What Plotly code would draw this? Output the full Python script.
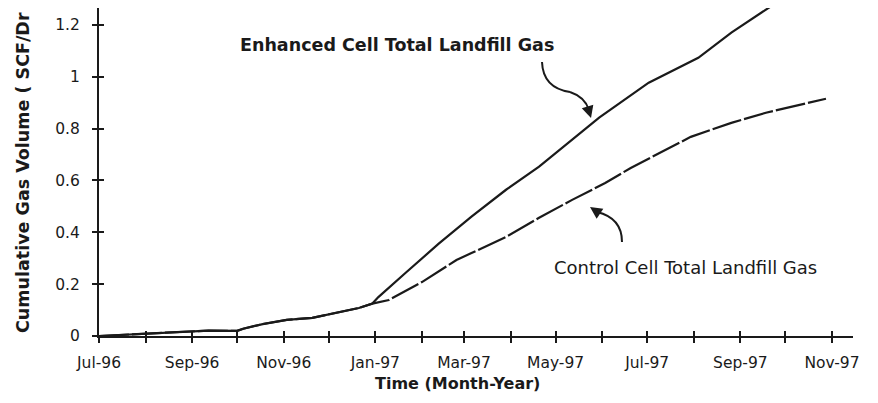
import plotly.graph_objects as go

# ---------------- data ----------------
enh_dates = ["1996-07-01", "1996-08-01", "1996-09-01", "1996-09-12", "1996-10-01", "1996-10-05",
             "1996-10-18", "1996-11-03", "1996-11-20", "1996-12-06", "1996-12-21", "1996-12-30",
             "1997-01-03", "1997-01-21", "1997-02-12", "1997-03-06", "1997-03-29", "1997-04-20",
             "1997-05-04", "1997-05-30", "1997-07-02", "1997-08-04", "1997-08-26", "1997-09-21"]
enh_vals = [0.0, 0.008, 0.016, 0.021, 0.02, 0.028,
            0.046, 0.062, 0.07, 0.089, 0.108, 0.125,
            0.15, 0.243, 0.355, 0.46, 0.564, 0.653,
            0.718, 0.842, 0.977, 1.073, 1.17, 1.27]

ctl_dates = ["1996-07-01", "1996-08-01", "1996-09-01", "1996-09-12", "1996-10-01", "1996-10-05",
             "1996-10-18", "1996-11-03", "1996-11-20", "1996-12-06", "1996-12-21", "1996-12-30",
             "1997-01-10", "1997-02-01", "1997-02-24", "1997-03-06", "1997-03-29", "1997-04-20",
             "1997-05-12", "1997-06-03", "1997-06-20", "1997-07-30", "1997-08-26", "1997-09-18",
             "1997-10-10", "1997-10-28"]
ctl_vals = [0.0, 0.008, 0.016, 0.021, 0.02, 0.028,
            0.046, 0.062, 0.07, 0.089, 0.108, 0.125,
            0.139, 0.208, 0.293, 0.32, 0.382, 0.456,
            0.525, 0.59, 0.648, 0.768, 0.822, 0.861,
            0.892, 0.915]

month_ticks = ["1996-07-01", "1996-08-01", "1996-09-01", "1996-10-01", "1996-11-01", "1996-12-01",
               "1997-01-01", "1997-02-01", "1997-03-01", "1997-04-01", "1997-05-01", "1997-06-01",
               "1997-07-01", "1997-08-01", "1997-09-01", "1997-10-01", "1997-11-01"]
month_labels = ["Jul-96", "", "Sep-96", "", "Nov-96", "", "Jan-97", "", "Mar-97", "", "May-97", "",
                "Jul-97", "", "Sep-97", "", "Nov-97"]
y_ticks = [0, 0.2, 0.4, 0.6, 0.8, 1.0, 1.2]
y_labels = ["0", "0.2", "0.4", "0.6", "0.8", "1", "1.2"]

x_range = ["1996-07-01", "1997-11-15"]
y_range = [0, 1.265]

enh_label = "Enhanced Cell Total Landfill Gas"
ctl_label = "Control Cell Total Landfill Gas"
x_title = "Time (Month-Year)"
y_title = "Cumulative Gas Volume ( SCF/Dr"

# ---------------- layout geometry ----------------
W, H = 878, 403
L, R, T, B = 99, 25, 8, 67
PW, PH = W - L - R, H - T - B
INK = "#1a1a1a"


def px(X, Y):
    return (X - L) / PW, (H - B - Y) / PH


fig = go.Figure()
fig.add_trace(go.Scatter(x=ctl_dates, y=ctl_vals, mode="lines",
                         line=dict(color=INK, width=2.2, dash="30px,3px"),
                         hoverinfo="skip", showlegend=False))
fig.add_trace(go.Scatter(x=enh_dates, y=enh_vals, mode="lines",
                         line=dict(color=INK, width=2.2),
                         hoverinfo="skip", showlegend=False))
# invisible trace on overlay axes (for crossing ticks)
fig.add_trace(go.Scatter(x=[x_range[0]], y=[0], xaxis="x2", yaxis="y2", mode="markers",
                         marker=dict(opacity=0), hoverinfo="skip", showlegend=False))

tickfont = dict(family="DejaVu Sans", size=15.5, color=INK)
fig.update_layout(
    width=W, height=H,
    margin=dict(l=L, r=R, t=T, b=B, autoexpand=False),
    paper_bgcolor="white", plot_bgcolor="white",
    xaxis=dict(type="date", range=x_range, tickvals=month_ticks, ticktext=month_labels,
               ticks="outside", ticklen=5, tickwidth=1.6, tickcolor=INK, automargin=False,
               showline=True, linecolor=INK, linewidth=2, showgrid=False, zeroline=False,
               tickfont=tickfont, ticklabelstandoff=6),
    yaxis=dict(range=y_range, tickvals=y_ticks, ticktext=y_labels, automargin=False,
               ticks="outside", ticklen=5, tickwidth=1.6, tickcolor=INK,
               showline=True, linecolor=INK, linewidth=2, showgrid=False, zeroline=False,
               tickfont=tickfont, ticklabelstandoff=9),
    xaxis2=dict(type="date", range=x_range, tickvals=month_ticks, overlaying="x",
                anchor="y", side="bottom", ticks="inside", ticklen=5, tickwidth=1.6,
                tickcolor=INK, showticklabels=False, showgrid=False, zeroline=False,
                showline=False, automargin=False),
    yaxis2=dict(range=y_range, tickvals=y_ticks, overlaying="y", anchor="x", side="left",
                ticks="inside", ticklen=5, tickwidth=1.6, tickcolor=INK, automargin=False,
                showticklabels=False, showgrid=False, zeroline=False, showline=False),
)


def label(X, Y, text, size, bold=False, angle=0):
    x, y = px(X, Y)
    fig.add_annotation(x=x, y=y, xref="paper", yref="paper", text=text, showarrow=False,
                       xanchor="center", yanchor="middle", textangle=angle,
                       font=dict(family="DejaVu Sans", size=size, color=INK,
                                 weight="bold" if bold else "normal"))


label(397, 45, enh_label, 17.5, bold=True)
label(685, 267, ctl_label, 18)
label(457, 384, x_title, 16, bold=True)
label(23, 173, y_title, 17.5, bold=True, angle=-90)


# curved arrows (pointers)
def curve(p0, c, p1):
    a, b, d = px(*p0), px(*c), px(*p1)
    return f"M {a[0]},{a[1]} Q {b[0]},{b[1]} {d[0]},{d[1]}"


fig.add_shape(type="path", xref="paper", yref="paper",
              path=curve((542, 62), (543, 88), (570, 92)),
              line=dict(color=INK, width=2))
fig.add_shape(type="path", xref="paper", yref="paper",
              path=curve((570, 92), (585, 97), (589, 110)),
              line=dict(color=INK, width=2))
tx, ty = px(591, 118)
fig.add_annotation(x=tx, y=ty, xref="paper", yref="paper", text="", showarrow=True,
                   ax=-3, ay=-10, arrowhead=2, arrowsize=1.2, arrowwidth=2, arrowcolor=INK)

fig.add_shape(type="path", xref="paper", yref="paper",
              path=curve((622, 242), (622, 218), (597, 212)),
              line=dict(color=INK, width=2))
tx, ty = px(590, 207)
fig.add_annotation(x=tx, y=ty, xref="paper", yref="paper", text="", showarrow=True,
                   ax=9, ay=6, arrowhead=2, arrowsize=1.2, arrowwidth=2, arrowcolor=INK)

fig.write_html("out.html", config={"displayModeBar": False},
               post_script="document.body.style.margin='0';document.body.style.overflow='hidden';")
